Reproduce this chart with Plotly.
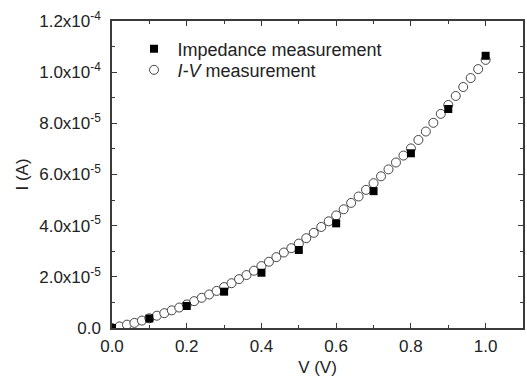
import plotly.graph_objects as go

# Impedance measurement (filled squares)
v_imp = [0.0, 0.1, 0.2, 0.3, 0.4, 0.5, 0.6, 0.7, 0.8, 0.9, 1.0]
i_imp = [0.0, 3.7e-6, 8.6e-6, 1.42e-5, 2.16e-5, 3.05e-5, 4.09e-5, 5.35e-5, 6.83e-5, 8.56e-5, 1.064e-4]

# I-V measurement (open circles)
v_iv = [0.00, 0.02, 0.04, 0.06, 0.08, 0.10, 0.12, 0.14, 0.16, 0.18,
        0.20, 0.22, 0.24, 0.26, 0.28, 0.30, 0.32, 0.34, 0.36, 0.38,
        0.40, 0.42, 0.44, 0.46, 0.48, 0.50, 0.52, 0.54, 0.56, 0.58,
        0.60, 0.62, 0.64, 0.66, 0.68, 0.70, 0.72, 0.74, 0.76, 0.78,
        0.80, 0.82, 0.84, 0.86, 0.88, 0.90, 0.92, 0.94, 0.96, 0.98, 1.00]
i_iv = [0.0, 0.6e-6, 1.3e-6, 2.0e-6, 2.9e-6, 3.8e-6, 4.8e-6, 5.8e-6, 6.9e-6, 8.0e-6,
        9.2e-6, 1.05e-5, 1.18e-5, 1.31e-5, 1.45e-5, 1.60e-5, 1.75e-5, 1.91e-5, 2.07e-5, 2.24e-5,
        2.42e-5, 2.59e-5, 2.77e-5, 2.95e-5, 3.12e-5, 3.30e-5, 3.51e-5, 3.72e-5, 3.95e-5, 4.17e-5,
        4.40e-5, 4.64e-5, 4.89e-5, 5.14e-5, 5.40e-5, 5.66e-5, 5.93e-5, 6.20e-5, 6.47e-5, 6.74e-5,
        7.02e-5, 7.35e-5, 7.68e-5, 8.02e-5, 8.37e-5, 8.72e-5, 9.07e-5, 9.42e-5, 9.77e-5, 1.012e-4, 1.048e-4]

x_ticks = [0.0, 0.2, 0.4, 0.6, 0.8, 1.0]
x_ticktext = ["0.0", "0.2", "0.4", "0.6", "0.8", "1.0"]
y_ticks = [0.0, 2e-5, 4e-5, 6e-5, 8e-5, 1.0e-4, 1.2e-4]
y_ticktext = ["0.0", "2.0x10<sup>-5</sup>", "4.0x10<sup>-5</sup>", "6.0x10<sup>-5</sup>",
              "8.0x10<sup>-5</sup>", "1.0x10<sup>-4</sup>", "1.2x10<sup>-4</sup>"]

FONT = "Liberation Sans, Arial, sans-serif"
AX = "#3a3a3a"
TXT = "#222"

fig = go.Figure()
fig.add_trace(go.Scatter(
    x=v_iv, y=i_iv, mode="markers", name="<i>I-V</i> measurement",
    marker=dict(symbol="circle", size=9, color="white", line=dict(color="#444", width=1)),
    legend="legend2",
))
fig.add_trace(go.Scatter(
    x=v_imp, y=i_imp, mode="markers", name="Impedance measurement",
    marker=dict(symbol="square", size=8, color="black", line=dict(color="black", width=0)),
    legend="legend",
))

axis_common = dict(
    showline=True, linecolor=AX, linewidth=1.5, mirror="allticks",
    ticks="inside", ticklen=5, tickwidth=1.2, tickcolor=AX,
    showgrid=False, zeroline=False,
    tickfont=dict(family=FONT, size=17, color=TXT),
)

fig.update_xaxes(
    range=[0, 1.1], tickvals=x_ticks, ticktext=x_ticktext,
    minor=dict(dtick=0.1, tick0=0, ticks="inside", ticklen=3, tickwidth=1.2, tickcolor=AX),
    title=dict(text="V (V)", font=dict(family=FONT, size=17, color=TXT), standoff=6),
    ticklabelstandoff=2,
    **axis_common,
)
fig.update_yaxes(
    range=[0, 1.2e-4], tickvals=y_ticks, ticktext=y_ticktext,
    minor=dict(dtick=1e-5, tick0=0, ticks="inside", ticklen=3, tickwidth=1.2, tickcolor=AX),
    title=dict(text="I (A)", font=dict(family=FONT, size=17, color=TXT), standoff=6),
    ticklabelstandoff=6,
    **axis_common,
)

legend_common = dict(
    xanchor="left", yanchor="middle",
    bgcolor="rgba(0,0,0,0)", borderwidth=0,
    font=dict(family=FONT, size=18, color=TXT),
    itemwidth=37,
)

fig.update_layout(
    width=527, height=377,
    margin=dict(l=112, r=2, t=21, b=49),
    paper_bgcolor="white", plot_bgcolor="white",
    showlegend=True,
    legend=dict(x=0.045, y=0.909, **legend_common),
    legend2=dict(x=0.045, y=0.840, **legend_common),
)

fig.write_html("out.html")
